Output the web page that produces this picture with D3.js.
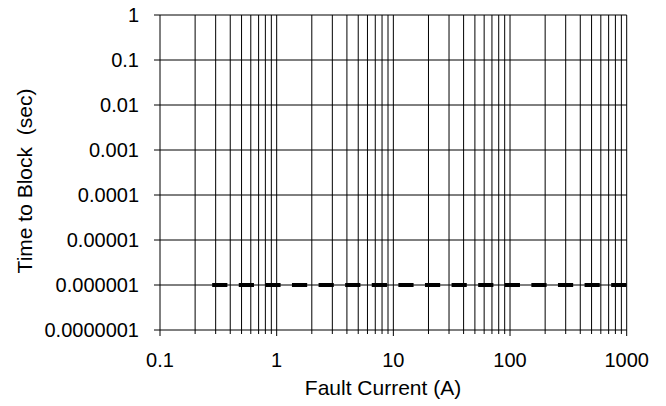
<!DOCTYPE html>
<html>
<head>
<meta charset="utf-8">
<script src="https://cdn.jsdelivr.net/npm/d3@7"></script>
<style>
	body { margin: 0; background: #fff; }
	text { font-family: "Liberation Sans", Arial, sans-serif; fill: #000; }
</style>
</head>
<body>
<div id="graph"></div>
<script>
	// series: time to block vs fault current
	var faultCurrent = [0.28, 1000];
	var timeToBlock = [0.000001, 0.000001];

	var xTickValues = [0.1, 1, 10, 100, 1000];
	var xTickLabels = ["0.1", "1", "10", "100", "1000"];
	var yTickValues = [1, 0.1, 0.01, 0.001, 0.0001, 0.00001, 0.000001, 0.0000001];
	var yTickLabels = ["1", "0.1", "0.01", "0.001", "0.0001", "0.00001", "0.000001", "0.0000001"];

	var w = 666;
	var h = 406;
	var padL = 160, padR = 626.7, padT = 15, padB = 330;

	var xScale = d3.scaleLog()
		.domain([0.1, 1000])
		.range([padL, padR]);
	var yScale = d3.scaleLog()
		.domain([0.0000001, 1])
		.range([padB, padT]);

	var svg = d3.select("#graph")
		.append("svg")
		.attr("width", w)
		.attr("height", h);

	// minor + major vertical grid (1..9 in each decade)
	var xGrid = [];
	for (var d = 0; d < xTickValues.length - 1; d++) {
		for (var k = 1; k < 10; k++) xGrid.push({v: xTickValues[d] * k, major: k == 1});
	}
	xGrid.push({v: 1000, major: true});

	svg.append("g")
		.selectAll("line")
		.data(xGrid)
		.enter()
		.append("line")
		.attr("x1", function (d) { return xScale(d.v); })
		.attr("x2", function (d) { return xScale(d.v); })
		.attr("y1", padT)
		.attr("y2", function (d) { return padB + (d.major ? 6 : 4); })
		.attr("stroke", "#000")
		.attr("stroke-width", 1);

	svg.append("g")
		.selectAll("line")
		.data(yTickValues)
		.enter()
		.append("line")
		.attr("x1", padL - 6)
		.attr("x2", padR)
		.attr("y1", function (d) { return Math.round(yScale(d)); })
		.attr("y2", function (d) { return Math.round(yScale(d)); })
		.attr("stroke", "#000")
		.attr("stroke-width", 1);

	// tick labels
	svg.append("g")
		.selectAll("text")
		.data(yTickValues)
		.enter()
		.append("text")
		.attr("x", 139)
		.attr("y", function (d) { return yScale(d); })
		.attr("dy", "0.35em")
		.attr("text-anchor", "end")
		.style("font-size", "20px")
		.text(function (d, i) { return yTickLabels[i]; });

	svg.append("g")
		.selectAll("text")
		.data(xTickValues)
		.enter()
		.append("text")
		.attr("x", function (d) { return xScale(d); })
		.attr("y", 367)
		.attr("text-anchor", "middle")
		.style("font-size", "20px")
		.text(function (d, i) { return xTickLabels[i]; });

	// axis titles
	svg.append("text")
		.attr("x", 383)
		.attr("y", 395)
		.attr("text-anchor", "middle")
		.style("font-size", "21px")
		.text("Fault Current (A)");

	svg.append("text")
		.attr("transform", "translate(32,181) rotate(-90)")
		.attr("text-anchor", "middle")
		.style("font-size", "21px")
		.style("white-space", "pre")
		.text("Time to Block  (sec)");

	// dashed series
	var line = d3.line()
		.x(function (d, i) { return xScale(faultCurrent[i]); })
		.y(function (d, i) { return yScale(timeToBlock[i]); });

	svg.append("path")
		.datum(faultCurrent)
		.attr("fill", "none")
		.attr("stroke", "#000")
		.attr("stroke-width", 3.8)
		.attr("stroke-dasharray", "15.2,11.4")
		.attr("d", line);
</script>
</body>
</html>
